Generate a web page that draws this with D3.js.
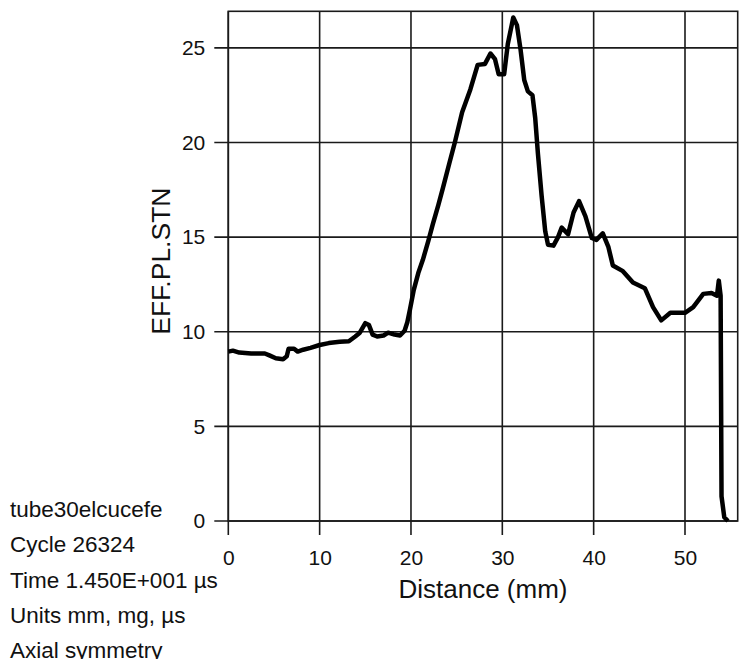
<!DOCTYPE html>
<html>
<head>
<meta charset="utf-8">
<script src="https://cdn.jsdelivr.net/npm/d3@7"></script>
<style>
  body { margin: 0; background: #fff; }
  svg { display: block; font-family: "Liberation Sans", Arial, sans-serif; }
</style>
</head>
<body>
<script>
// values
var distance = [0, 0.5, 1.2, 2.5, 4.0, 4.5, 5.2, 6.0, 6.4, 6.6, 7.2, 7.6, 8.2, 9.0, 10.0,
  11.0, 12.2, 13.2, 13.9, 14.4, 15.0, 15.4, 15.8, 16.3, 17.0, 17.5, 18.2, 18.8, 19.3, 19.6,
  19.9, 20.3, 20.8, 21.3, 21.9, 22.4, 23.0, 23.5, 24.2, 24.8, 25.6, 26.5, 27.3, 28.1, 28.7,
  29.2, 29.6, 30.2, 30.6, 31.2, 31.6, 32.0, 32.4, 32.8, 33.3, 33.6, 33.9, 34.3, 34.7, 35.0,
  35.6, 36.1, 36.5, 37.2, 37.8, 38.4, 39.1, 39.8, 40.3, 41.0, 41.6, 42.1, 43.2, 44.3, 45.6,
  46.5, 47.4, 48.4, 50.0, 50.9, 52.0, 52.9, 53.5, 53.7, 53.9, 54.0, 54.3, 54.7];
var effPlStn = [8.95, 9.0, 8.9, 8.85, 8.85, 8.75, 8.6, 8.55, 8.7, 9.1, 9.1, 8.95, 9.05, 9.15, 9.3,
  9.4, 9.47, 9.5, 9.75, 9.95, 10.45, 10.35, 9.85, 9.75, 9.8, 9.95, 9.85, 9.8, 10.05, 10.5,
  11.2, 12.2, 13.1, 13.8, 14.8, 15.7, 16.7, 17.6, 18.9, 20.0, 21.6, 22.8, 24.1, 24.15, 24.7,
  24.4, 23.6, 23.6, 25.2, 26.6, 26.2, 24.9, 23.3, 22.7, 22.5, 21.3, 19.4, 17.2, 15.3, 14.6,
  14.55, 15.0, 15.5, 15.15, 16.3, 16.9, 16.1, 14.95, 14.85, 15.2, 14.5, 13.5, 13.2, 12.6, 12.3,
  11.3, 10.6, 11.0, 11.0, 11.3, 12.0, 12.05, 11.9, 12.7, 11.9, 1.3, 0.2, 0.0];

var xTicks = [0, 10, 20, 30, 40, 50];
var yTicks = [0, 5, 10, 15, 20, 25];
var infoLines = ["tube30elcucefe", "Cycle 26324", "Time 1.450E+001 \u00b5s",
  "Units mm, mg, \u00b5s", "Axial symmetry"];

var W = 739, H = 659;
var margin = { top: 11.3, left: 228.3, right: 1.3, bottom: 138 };
var w = W - margin.left - margin.right;
var h = H - margin.top - margin.bottom;

var svg = d3.select("body").append("svg")
  .attr("width", W)
  .attr("height", H);

var x = d3.scaleLinear().domain([0, 55.77]).range([0, w]);
var y = d3.scaleLinear().domain([0, 26.93]).range([h, 0]);

var g = svg.append("g")
  .attr("transform", "translate(" + margin.left + "," + margin.top + ")");

// grid lines, running on past the axes as tick marks
g.selectAll(".vgrid").data(xTicks).enter().append("line")
  .attr("x1", d => x(d)).attr("x2", d => x(d))
  .attr("y1", 0).attr("y2", h + 14)
  .attr("stroke", "#1a1a1a").attr("stroke-width", 1.6);
g.selectAll(".hgrid").data(yTicks).enter().append("line")
  .attr("y1", d => y(d)).attr("y2", d => y(d))
  .attr("x1", -14).attr("x2", w)
  .attr("stroke", "#1a1a1a").attr("stroke-width", 1.6);

g.append("rect")
  .attr("x", 0).attr("y", 0).attr("width", w).attr("height", h)
  .attr("fill", "none").attr("stroke", "#1a1a1a").attr("stroke-width", 1.6);

// tick labels through the axes
var xAxis = g.append("g")
  .attr("transform", "translate(0," + h + ")")
  .call(d3.axisBottom(x).tickValues(xTicks).tickSize(14).tickPadding(15));
var yAxis = g.append("g")
  .call(d3.axisLeft(y).tickValues(yTicks).tickSize(14).tickPadding(9));
[xAxis, yAxis].forEach(a => {
  a.select(".domain").remove();
  a.selectAll(".tick line").remove();
  a.selectAll("text")
    .attr("font-family", "Liberation Sans, Arial, sans-serif")
    .attr("font-size", 21)
    .attr("fill", "#111");
});

var line = d3.line()
  .x((d, i) => x(distance[i]))
  .y(d => y(d));

g.append("path")
  .datum(effPlStn)
  .attr("d", line)
  .attr("fill", "none")
  .attr("stroke", "#000")
  .attr("stroke-width", 4.5)
  .attr("stroke-linejoin", "round");

// axis titles
svg.append("text")
  .attr("x", margin.left + w / 2)
  .attr("y", 598)
  .attr("text-anchor", "middle")
  .attr("font-size", 26)
  .attr("fill", "#111")
  .text("Distance (mm)");

svg.append("text")
  .attr("transform", "translate(170," + (margin.top + h / 2 - 5) + ") rotate(-90)")
  .attr("text-anchor", "middle")
  .attr("font-size", 26.5)
  .attr("fill", "#111")
  .text("EFF.PL.STN");

// run info, bottom left
svg.selectAll(".info").data(infoLines).enter().append("text")
  .attr("x", 10)
  .attr("y", (d, i) => 517 + i * 35.3)
  .attr("font-size", 22.5)
  .attr("fill", "#111")
  .text(d => d);
</script>
</body>
</html>
